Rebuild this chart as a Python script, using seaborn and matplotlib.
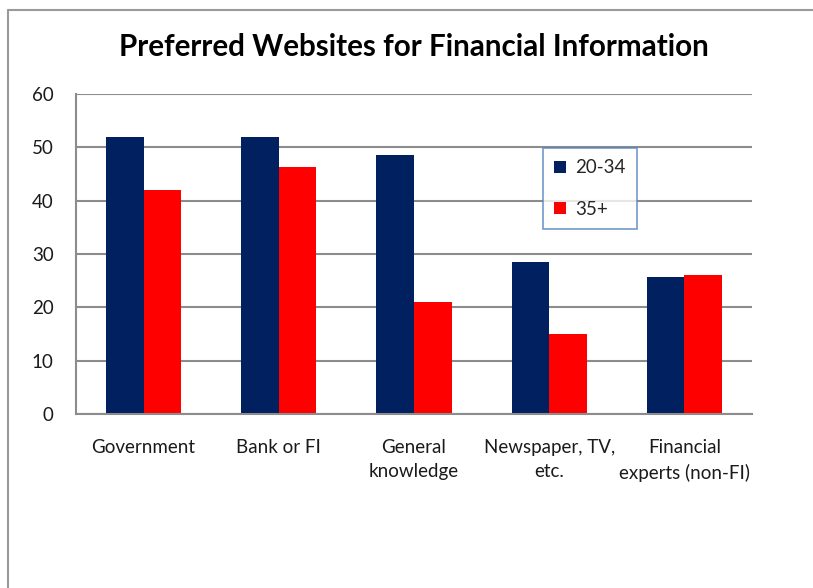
import matplotlib
matplotlib.use("Agg")
import matplotlib.pyplot as plt
import seaborn as sns
import pandas as pd
from matplotlib.lines import Line2D

categories = ["Government", "Bank or FI", "General\nknowledge", "Newspaper, TV,\netc.", "Financial\nexperts (non-FI)"]
series_names = ["20-34", "35+"]
values_2034 = [52, 52, 48.5, 28.5, 25.7]
values_35 = [42, 46.3, 21, 15, 26]
yticks = [0, 10, 20, 30, 40, 50, 60]

df = pd.DataFrame({
    "category": categories * 2,
    "group": [series_names[0]] * len(categories) + [series_names[1]] * len(categories),
    "value": values_2034 + values_35,
})

sns.set_theme(style="white")
plt.rcParams["font.family"] = ["Lato", "DejaVu Sans"]

fig = plt.figure(figsize=(8.13, 5.88), dpi=100)
ax = fig.add_axes([76/813, 1-414/588, 676/813, 320/588])

sns.barplot(data=df, x="category", y="value", hue="group", order=categories,
            hue_order=series_names, palette=["#002060", "#FF0000"],
            width=0.555, gap=0, saturation=1, ax=ax, legend=True,
            edgecolor="none", linewidth=0)

ax.set_ylim(0, 60)
ax.set_yticks(yticks)
ax.set_xlim(-0.5, len(categories) - 0.5)
ax.set_axisbelow(True)
ax.yaxis.grid(True, color="#8c8c8c", linewidth=1.5)
ax.xaxis.grid(False)
for s in ["top", "right"]:
    ax.spines[s].set_visible(False)
for s in ["left", "bottom"]:
    ax.spines[s].set_color("#8c8c8c")
    ax.spines[s].set_linewidth(1.5)
ax.set_xlabel("")
ax.set_ylabel("")
ax.tick_params(axis="x", length=0, pad=18, labelsize=13.5, labelcolor="#1a1a1a")
ax.tick_params(axis="y", length=0, pad=16, labelsize=13.5, labelcolor="#1a1a1a")
for lbl in ax.get_xticklabels():
    lbl.set_linespacing(1.5)

leg = ax.legend(loc="upper left", bbox_to_anchor=((543-76)/676, (414-148)/320),
                frameon=True, fancybox=False, fontsize=13.5, handlelength=0.6,
                handleheight=0.6, handletextpad=0.5, labelspacing=1.3,
                borderpad=0.6, borderaxespad=0)
leg.get_frame().set_edgecolor("#4F81BD")
leg.get_frame().set_linewidth(1.2)

fig.text(414/813, 1-47/588, "Preferred Websites for Financial Information",
         ha="center", va="center", fontsize=21.3, fontweight="bold", color="black")

# outer chart border
fig.add_artist(Line2D([8/813, 8/813], [0, 1-10/588], transform=fig.transFigure,
                      color="#9a9a9a", linewidth=1.5))
fig.add_artist(Line2D([8/813, 1], [1-10/588, 1-10/588], transform=fig.transFigure,
                      color="#9a9a9a", linewidth=1.5))

fig.savefig("out.png", dpi=100)
